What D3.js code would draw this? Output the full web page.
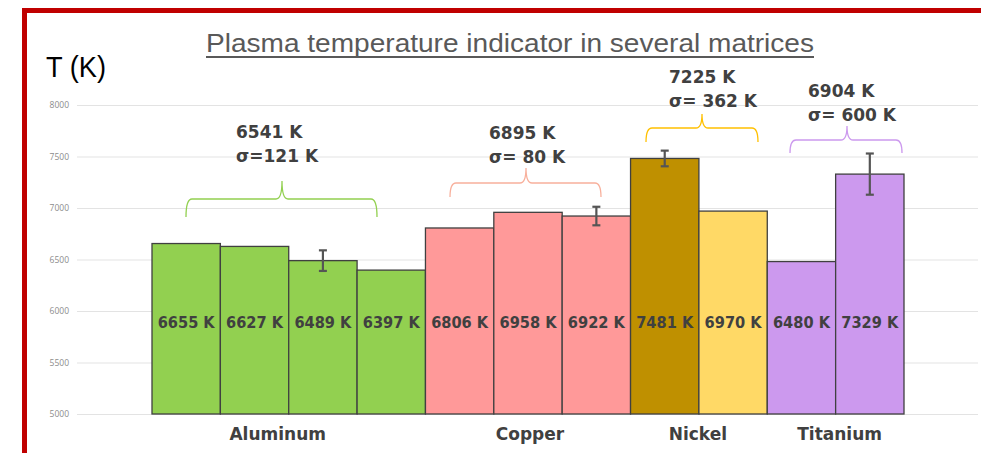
<!DOCTYPE html>
<html>
<head>
<meta charset="utf-8">
<script src="https://cdn.jsdelivr.net/npm/d3@7"></script>
<style>
  html, body { margin: 0; padding: 0; background: #fff; }
  svg { display: block; }
</style>
</head>
<body>
<svg id="chart" width="981" height="453"></svg>
<script>
// ---------- DATA ----------
const barIds      = ["Al1","Al2","Al3","Al4","Cu1","Cu2","Cu3","Ni1","Ni2","Ti1","Ti2"];
const barGroups   = ["Aluminum","Aluminum","Aluminum","Aluminum","Copper","Copper","Copper","Nickel","Nickel","Titanium","Titanium"];
const barValues   = [6655, 6627, 6489, 6397, 6806, 6958, 6922, 7481, 6970, 6480, 7329];
const barErrors   = [null, null, 100, null, null, null, 90, 76, null, null, 200];
const barColors   = ["#92d050","#92d050","#92d050","#92d050","#ff9999","#ff9999","#ff9999","#bf9000","#ffd966","#cc99ee","#cc99ee"];
const groups      = ["Aluminum","Copper","Nickel","Titanium"];
const groupMeans  = [6541, 6895, 7225, 6904];
const groupSigmaLabels = ["σ=121 K", "σ= 80 K", "σ= 362 K", "σ= 600 K"];
const braceColors = ["#92d050","#f8b09c","#ffc000","#cc99ee"];
const yTicks      = [5000, 5500, 6000, 6500, 7000, 7500, 8000];
const titleText   = "Plasma temperature indicator in several matrices";
const yAxisTitle  = "T (K)";

// ---------- LAYOUT ----------
const svg = d3.select("#chart");
const y = d3.scaleLinear().domain([5000, 8000]).range([414, 105]);
const x = d3.scaleBand().domain(barIds).range([152, 904]).padding(0);

const braceLayout = [
  {x0: 186, x1: 377, xm: 282, yl: 199, d: 18, s: 18, tx: 236, ty: 138},
  {x0: 450, x1: 601, xm: 526, yl: 183, d: 14, s: 15, tx: 489, ty: 139},
  {x0: 646, x1: 758, xm: 702, yl: 128, d: 14, s: 14, tx: 669, ty: 83},
  {x0: 790, x1: 902, xm: 847, yl: 140, d: 13, s: 14, tx: 808, ty: 97}
];
const groupLabelShift = [-11, 2, -1, 4];

const labelFont = "'DejaVu Sans', Verdana, sans-serif";

// ---------- BORDER ----------
svg.append("path")
  .attr("d", "M24.5,470 L24.5,10.5 L995,10.5")
  .attr("fill", "none").attr("stroke", "#c00000").attr("stroke-width", 5);

// ---------- GRID + Y TICKS ----------
const grid = svg.append("g");
grid.selectAll("line").data(yTicks).join("line")
  .attr("x1", 77).attr("x2", 978)
  .attr("y1", d => y(d) + 0.5).attr("y2", d => y(d) + 0.5)
  .attr("stroke", "#e3e3e3").attr("stroke-width", 1);
grid.selectAll("text").data(yTicks).join("text")
  .attr("x", 69).attr("y", d => y(d) + 3)
  .attr("text-anchor", "end")
  .attr("font-family", "'Open Sans', 'Liberation Sans', sans-serif")
  .attr("font-size", 8.5).attr("fill", "#8c8c8c")
  .text(d => d);

// ---------- BARS ----------
const bars = svg.append("g");
bars.selectAll("rect").data(barIds).join("rect")
  .attr("x", d => x(d))
  .attr("y", (d, i) => y(barValues[i]))
  .attr("width", x.bandwidth())
  .attr("height", (d, i) => y(5000) - y(barValues[i]))
  .attr("fill", (d, i) => barColors[i])
  .attr("stroke", "#404040").attr("stroke-width", 1.3);

// bar labels
bars.selectAll("text").data(barIds).join("text")
  .attr("x", d => x(d) + x.bandwidth() / 2)
  .attr("y", 328)
  .attr("text-anchor", "middle")
  .attr("font-family", labelFont)
  .attr("font-weight", "bold")
  .attr("font-size", 16.5).attr("fill", "#404040")
  .attr("textLength", 57).attr("lengthAdjust", "spacingAndGlyphs")
  .text((d, i) => barValues[i] + " K");

// error bars
const errData = barIds.map((d, i) => ({id: d, v: barValues[i], e: barErrors[i]})).filter(d => d.e != null);
const eg = svg.append("g").attr("stroke", "#555").attr("stroke-width", 2.2);
errData.forEach(d => {
  const cx = x(d.id) + x.bandwidth() / 2;
  eg.append("line").attr("x1", cx).attr("x2", cx).attr("y1", y(d.v + d.e)).attr("y2", y(d.v - d.e));
  eg.append("line").attr("x1", cx - 4).attr("x2", cx + 4).attr("y1", y(d.v + d.e)).attr("y2", y(d.v + d.e));
  eg.append("line").attr("x1", cx - 4).attr("x2", cx + 4).attr("y1", y(d.v - d.e)).attr("y2", y(d.v - d.e));
});

// ---------- GROUP LABELS ----------
const groupCenter = g => {
  const idx = barGroups.map((b, i) => b === g ? i : -1).filter(i => i >= 0);
  return (x(barIds[idx[0]]) + x(barIds[idx[idx.length - 1]]) + x.bandwidth()) / 2;
};
svg.append("g").selectAll("text").data(groups).join("text")
  .attr("x", (d, i) => groupCenter(d) + groupLabelShift[i])
  .attr("y", 440)
  .attr("text-anchor", "middle")
  .attr("font-family", labelFont)
  .attr("font-weight", "bold")
  .attr("font-size", 17).attr("fill", "#404040")
  .text(d => d);

// ---------- BRACES + ANNOTATIONS ----------
groups.forEach((g, i) => {
  const L = braceLayout[i], r = 6;
  const p = d3.path();
  p.moveTo(L.x0, L.yl + L.d);
  p.quadraticCurveTo(L.x0, L.yl, L.x0 + r, L.yl);
  p.lineTo(L.xm - r, L.yl);
  p.quadraticCurveTo(L.xm, L.yl, L.xm, L.yl - L.s);
  p.moveTo(L.xm, L.yl - L.s);
  p.quadraticCurveTo(L.xm, L.yl, L.xm + r, L.yl);
  p.lineTo(L.x1 - r, L.yl);
  p.quadraticCurveTo(L.x1, L.yl, L.x1, L.yl + L.d);
  svg.append("path").attr("d", p.toString())
    .attr("fill", "none").attr("stroke", braceColors[i]).attr("stroke-width", 1.3);
  const t = svg.append("text")
    .attr("font-family", labelFont)
    .attr("font-weight", "bold")
    .attr("font-size", 17).attr("fill", "#404040");
  t.append("tspan").attr("x", L.tx).attr("y", L.ty).text(groupMeans[i] + " K");
  t.append("tspan").attr("x", L.tx).attr("y", L.ty + 23.5).text(groupSigmaLabels[i]);
});

// ---------- TITLES ----------
svg.append("text")
  .attr("x", 206).attr("y", 52)
  .attr("font-family", "'Liberation Sans', Arial, sans-serif")
  .attr("font-size", 26).attr("fill", "#595959")
  .attr("textLength", 608).attr("lengthAdjust", "spacingAndGlyphs")
  .text(titleText);
svg.append("line")
  .attr("x1", 206).attr("x2", 814).attr("y1", 57).attr("y2", 57)
  .attr("stroke", "#595959").attr("stroke-width", 2);

svg.append("text")
  .attr("x", 46).attr("y", 77)
  .attr("font-family", "'Liberation Sans', Arial, sans-serif")
  .attr("font-size", 30).attr("fill", "#000")
  .attr("textLength", 60).attr("lengthAdjust", "spacingAndGlyphs")
  .text(yAxisTitle);
</script>
</body>
</html>
